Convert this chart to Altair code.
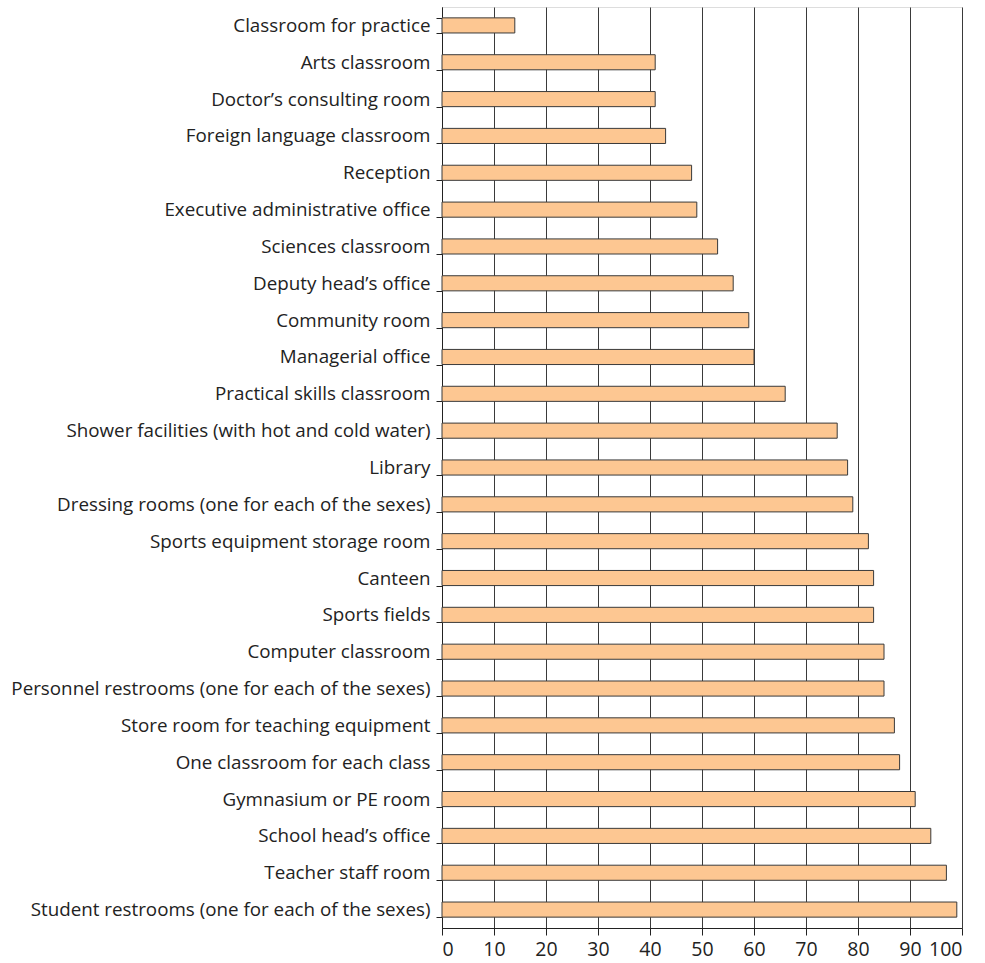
import altair as alt
import pandas as pd

categories = [
    "Classroom for practice",
    "Arts classroom",
    "Doctor’s consulting room",
    "Foreign language classroom",
    "Reception",
    "Executive administrative office",
    "Sciences classroom",
    "Deputy head’s office",
    "Community room",
    "Managerial office",
    "Practical skills classroom",
    "Shower facilities (with hot and cold water)",
    "Library",
    "Dressing rooms (one for each of the sexes)",
    "Sports equipment storage room",
    "Canteen",
    "Sports fields",
    "Computer classroom",
    "Personnel restrooms (one for each of the sexes)",
    "Store room for teaching equipment",
    "One classroom for each class",
    "Gymnasium or PE room",
    "School head’s office",
    "Teacher staff room",
    "Student restrooms (one for each of the sexes)",
]
values = [14, 41, 41, 43, 48, 49, 53, 56, 59, 60, 66, 76, 78, 79, 82, 83, 83, 85, 85, 87, 88, 91, 94, 97, 99]
x_ticks = [0, 10, 20, 30, 40, 50, 60, 70, 80, 90, 100]

df = pd.DataFrame({"category": categories, "value": values})

FONT = "Open Sans"

chart = (
    alt.Chart(df)
    .mark_bar(fill="#FDC792", stroke="#3a3a3a", strokeWidth=1)
    .encode(
        x=alt.X(
            "value:Q",
            scale=alt.Scale(domain=[0, 100], nice=False),
            axis=alt.Axis(
                values=x_ticks,
                title=None,
                grid=True,
                gridColor="#3a3a3a",
                gridOpacity=1,
                gridWidth=1,
                domainColor="#222222",
                tickColor="#222222",
                tickSize=7,
                labelFont=FONT,
                labelFontSize=19.5,
                labelColor="#222222",
                labelPadding=5,
            ),
        ),
        y=alt.Y(
            "category:N",
            sort=categories,
            scale=alt.Scale(paddingInner=0.59, paddingOuter=0.295),
            axis=alt.Axis(
                title=None,
                grid=False,
                tickBand="extent",
                domainColor="#222222",
                tickColor="#222222",
                tickSize=6,
                labelFont=FONT,
                labelFontSize=18.8,
                labelColor="#222222",
                labelPadding=6,
                labelLimit=440,
            ),
        ),
    )
    .properties(
        width=520,
        height=921,
        autosize=alt.AutoSizeParams(type="none"),
        padding={"left": 442, "top": 7, "right": 22, "bottom": 35},
    )
    .configure_view(stroke="#555555", strokeWidth=1)
    .configure(background="white")
)

chart.save("out.html", embed_options={"renderer": "svg", "actions": False})
